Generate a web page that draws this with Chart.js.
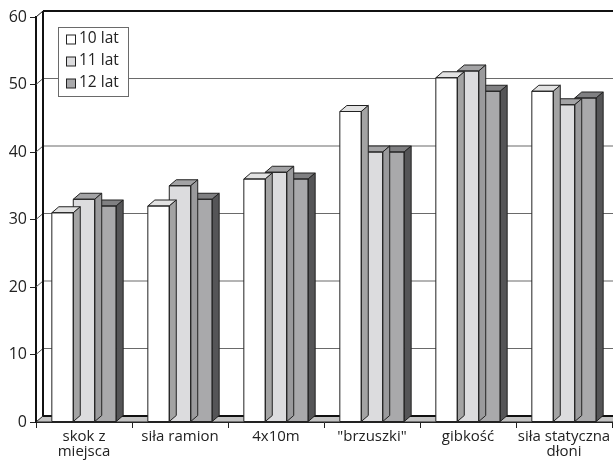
<!DOCTYPE html>
<html>
<head>
<meta charset="utf-8">
<style>
  html, body { margin: 0; padding: 0; background: #fff; }
  #wrap { width: 613px; height: 464px; position: relative; }
</style>
<script src="https://cdn.jsdelivr.net/npm/chart.js@4/dist/chart.umd.min.js"></script>
</head>
<body>
<div id="wrap"><canvas id="c" width="613" height="464"></canvas></div>
<script>
// Categories (tests) and results per age group
const categories = [['skok z', 'miejsca'], 'siła ramion', '4x10m', '"brzuszki"', 'gibkość', ['siła statyczna', 'dłoni']];
const seriesNames = ['10 lat', '11 lat', '12 lat'];
const lat10 = [31, 32, 36, 46, 51, 49];
const lat11 = [33, 35, 37, 40, 52, 47];
const lat12 = [32, 33, 36, 40, 49, 48];
const yTickValues = [0, 10, 20, 30, 40, 50, 60];

// Shading for the pseudo-3D boxes: front, top, side
const faceColors = [
  { front: '#ffffff', top: '#e2e2e2', side: '#a3a3a3' },
  { front: '#dcdcde', top: '#a3a3a5', side: '#9a9a9c' },
  { front: '#a9a9ab', top: '#808082', side: '#555557' }
];
const DX = 7, DY = 6;            // depth offset of the back plane
const EDGE = '#222';
const FONT = "'Open Sans', 'DejaVu Sans', sans-serif";

function poly(ctx, pts, fill) {
  ctx.beginPath();
  ctx.moveTo(pts[0][0], pts[0][1]);
  for (let i = 1; i < pts.length; i++) ctx.lineTo(pts[i][0], pts[i][1]);
  ctx.closePath();
  if (fill) { ctx.fillStyle = fill; ctx.fill(); }
  ctx.strokeStyle = EDGE;
  ctx.lineWidth = 1;
  ctx.stroke();
}

// Back wall, side wall and floor behind the boxes
const wallPlugin = {
  id: 'wall',
  beforeDatasetsDraw(chart) {
    const ctx = chart.ctx;
    const y = chart.scales.y;
    const area = chart.chartArea;
    const L = area.left, R = chart.width + 2;
    ctx.save();
    // gridlines on the back wall plus connectors across the side wall
    yTickValues.forEach(v => {
      const py = y.getPixelForValue(v);
      if (v === 0) return;
      const top = v === yTickValues[yTickValues.length - 1];
      ctx.strokeStyle = top ? '#111' : '#6a6a6a';
      ctx.lineWidth = top ? 2 : 1.2;
      ctx.beginPath();
      ctx.moveTo(L + DX, py - DY);
      ctx.lineTo(R, py - DY);
      ctx.stroke();
      ctx.lineWidth = 1;
      ctx.strokeStyle = top ? '#111' : '#555';
      ctx.beginPath();
      ctx.moveTo(L, py);
      ctx.lineTo(L + DX, py - DY);
      ctx.stroke();
    });
    // left edge of the back wall
    const yTop = y.getPixelForValue(yTickValues[yTickValues.length - 1]) - DY;
    const y0 = y.getPixelForValue(0);
    ctx.strokeStyle = '#111';
    ctx.lineWidth = 2;
    ctx.beginPath();
    ctx.moveTo(L + DX, yTop);
    ctx.lineTo(L + DX, y0 - DY);
    ctx.stroke();
    // floor slab
    ctx.beginPath();
    ctx.moveTo(L, y0);
    ctx.lineTo(L + DX, y0 - DY);
    ctx.lineTo(R, y0 - DY);
    ctx.lineTo(R, y0);
    ctx.closePath();
    ctx.fillStyle = '#c4c4c4';
    ctx.fill();
    ctx.lineWidth = 1;
    ctx.strokeStyle = '#222';
    ctx.stroke();
    ctx.lineWidth = 2;
    ctx.strokeStyle = '#111';
    ctx.beginPath();
    ctx.moveTo(L + DX, y0 - DY);
    ctx.lineTo(R, y0 - DY);
    ctx.stroke();
    ctx.restore();
  },
  // top and side faces of each box, drawn right after its series
  afterDatasetDraw(chart, args) {
    const ctx = chart.ctx;
    const col = faceColors[args.index];
    ctx.save();
    args.meta.data.forEach(bar => {
      const p = bar.getProps(['x', 'y', 'base', 'width'], true);
      const l = p.x - p.width / 2, r = p.x + p.width / 2;
      poly(ctx, [[l, p.y], [r, p.y], [r + DX, p.y - DY], [l + DX, p.y - DY]], col.top);
      poly(ctx, [[r, p.y], [r + DX, p.y - DY], [r + DX, p.base - DY], [r, p.base]], col.side);
      poly(ctx, [[l, p.y], [r, p.y], [r, p.base], [l, p.base]], null);
    });
    ctx.restore();
  },
  // legend box in the upper-left corner of the plot
  afterDraw(chart) {
    const ctx = chart.ctx;
    ctx.save();
    const bx = 58.5, by = 27.5, bw = 70, bh = 69;
    ctx.fillStyle = '#fff';
    ctx.fillRect(bx, by, bw, bh);
    ctx.strokeStyle = '#6a6a6a';
    ctx.lineWidth = 1;
    ctx.strokeRect(bx, by, bw, bh);
    ctx.font = '15.5px ' + FONT;
    ctx.textBaseline = 'middle';
    chart.data.datasets.forEach((ds, i) => {
      const cy = 39.5 + i * 22;
      ctx.fillStyle = ds.backgroundColor;
      ctx.fillRect(66.5, cy - 4.5, 9, 9);
      ctx.strokeStyle = '#222';
      ctx.strokeRect(66.5, cy - 4.5, 9, 9);
      ctx.fillStyle = '#222';
      ctx.fillText(ds.label, 79, cy - 1);
    });
    ctx.restore();
  }
};

const seriesData = [lat10, lat11, lat12];

new Chart(document.getElementById('c'), {
  type: 'bar',
  data: {
    labels: categories,
    datasets: seriesNames.map((name, i) => ({
      label: name,
      data: seriesData[i],
      backgroundColor: faceColors[i].front,
      borderColor: EDGE,
      borderWidth: 0,
      categoryPercentage: 0.67,
      barPercentage: 1.0
    }))
  },
  options: {
    responsive: false,
    animation: false,
    devicePixelRatio: 1,
    layout: { padding: { top: 17, right: 1, left: 0, bottom: 0 } },
    plugins: { legend: { display: false }, tooltip: { enabled: false } },
    scales: {
      x: {
        offset: true,
        grid: { offset: true, drawOnChartArea: false, drawTicks: true, tickLength: 6, color: '#222', lineWidth: 1 },
        border: { display: true, color: '#222', width: 1 },
        ticks: { color: '#222', font: { family: FONT, size: 15, lineHeight: 0.95 }, padding: 2, maxRotation: 0, autoSkip: false },
        afterFit(scale) { scale.height = 42; }
      },
      y: {
        min: 0, max: 60,
        ticks: { stepSize: 10, color: '#222', font: { family: FONT, size: 16 }, padding: 3 },
        grid: { drawOnChartArea: false, drawTicks: true, tickLength: 6, color: '#222', lineWidth: 1 },
        border: { display: true, color: '#111', width: 2 },
        afterFit(scale) { scale.width = 36; }
      }
    }
  },
  plugins: [wallPlugin]
});
</script>
</body>
</html>
